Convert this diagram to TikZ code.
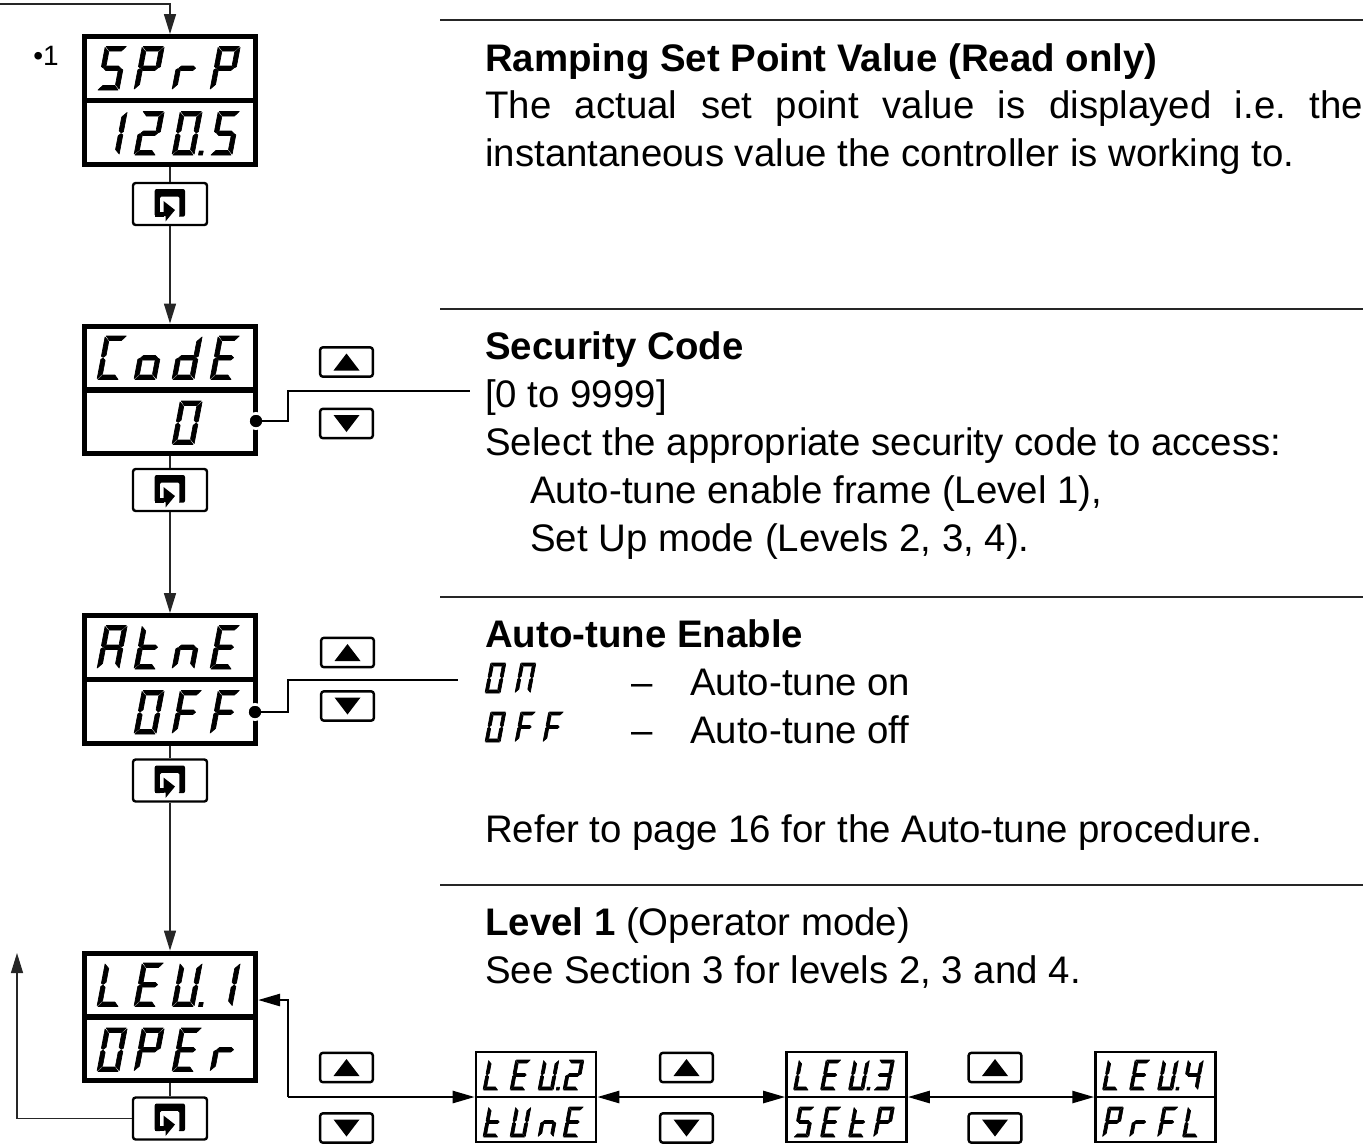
\documentclass[tikz,border=0pt]{standalone}
\usepackage{fontspec}
\setmainfont{Liberation Sans}
\usetikzlibrary{arrows.meta}
\frenchspacing
\newcommand{\segA}{\fill[segfill] (1,43.5)--(21,43.5)--(17,39)--(5,39)--cycle;}
\newcommand{\segD}{\fill[segfill] (1,0)--(21,0)--(17,4.5)--(5,4.5)--cycle;}
\newcommand{\segG}{\fill[segfill] (2.6,21.75)--(5,24)--(17,24)--(19.4,21.75)--(17,19.5)--(5,19.5)--cycle;}
\newcommand{\segF}{\fill[segfill] (0,42.5)--(4.5,38)--(4.5,24.3)--(2,22.1)--(0,23.4)--cycle;}
\newcommand{\segB}{\fill[segfill] (22,42.5)--(17.5,38)--(17.5,24.3)--(20,22.1)--(22,23.4)--cycle;}
\newcommand{\segE}{\fill[segfill] (0,1)--(4.5,5.5)--(4.5,19.2)--(2,21.4)--(0,20.1)--cycle;}
\newcommand{\segC}{\fill[segfill] (22,1)--(17.5,5.5)--(17.5,19.2)--(20,21.4)--(22,20.1)--cycle;}
\newcommand{\segP}{\fill[segfill] (26.5,0)--(30.5,0)--(30.5,4)--(26.5,4)--cycle;}
% \glyph{x}{y}{scale}{segments}: one seven-segment character
\newcommand{\glyph}[4]{\edef\glist{#4}\begin{scope}[shift={(#1,#2)},x=0.75pt,y=0.75pt,scale=#3,xslant=0.19]
\foreach \s in \glist {\csname seg\s\endcsname}\end{scope}}
\newcommand{\rowbig}[6]{%
\glyph{#1-73}{#2}{1}{#3}\glyph{#1-36}{#2}{1}{#4}\glyph{#1+2}{#2}{1}{#5}\glyph{#1+40}{#2}{1}{#6}}
\newcommand{\rowsmall}[6]{%
\glyph{#1-53}{#2}{0.69}{#3}\glyph{#1-26}{#2}{0.69}{#4}\glyph{#1+2}{#2}{0.69}{#5}\glyph{#1+27}{#2}{0.69}{#6}}
\def\gS{A,F,G,C,D}\def\gP{A,B,E,F,G}\def\gR{E,G}\def\gE{A,D,E,F,G}\def\gO{A,B,C,D,E,F}
\def\gC{A,D,E,F}\def\go{C,D,E,G}\def\gd{B,C,D,E,G}\def\gA{A,B,C,E,F,G}\def\gt{D,E,F,G}
\def\gn{C,E,G}\def\gF{A,E,F,G}\def\gL{D,E,F}\def\gU{B,C,D,E,F}\def\gOne{B,C}
\def\gTwo{A,B,G,E,D}\def\gThree{A,B,C,D,G}\def\gFour{B,C,F,G}\def\gN{A,B,C,E,F}
\tikzset{
 x=0.75pt,y=-0.75pt,
 segfill/.style={fill=black,draw=black,line width=0.5pt,line join=round},
 disp/.style={draw=black,line width=4pt,rectangle,minimum width=127.9pt,minimum height=95.6pt,inner sep=0,fill=none},
 sdisp/.style={draw=black,line width=1.9pt,rectangle,minimum width=90pt,minimum height=67.2pt,inner sep=0,fill=none},
 btn/.style={draw=black,line width=1.8pt,rectangle,rounded corners=2pt,inner sep=0},
 enterbtn/.style={btn,minimum width=55.5pt,minimum height=31.5pt},
 arrbtn/.style={btn,minimum width=39.5pt,minimum height=22pt},
 thinl/.style={line width=1pt,black!85},
 thickl/.style={line width=1.9pt,black},
 flow/.style={thinl,-{Triangle[length=15pt,width=9pt]}},
 flowk/.style={thickl,-{Triangle[length=16.5pt,width=9pt]}},
 flowkk/.style={thickl,{Triangle[length=16.5pt,width=9pt]}-{Triangle[length=16.5pt,width=9pt]}},
 rule/.style={line width=1.5pt,black!85},
 pdot/.style={circle,fill=black,draw=white,line width=2pt,inner sep=0,minimum size=11.5pt},
 txt/.style={anchor=base west,inner sep=0,font=\fontsize{28.8}{36}\selectfont},
 btxt/.style={txt,font=\fontsize{28.8}{36}\selectfont\bfseries},
}
\newcommand{\enterpic}[2]{\begin{scope}[shift={(#1,#2)}]
 \fill[black,rounded corners=1.5pt] (-15.3,-15)--(15,-15)--(15,12.7)--(-15.3,12.7)--cycle;
 \fill[white,rounded corners=1pt] (-10,13)--(-10,-7.3)--(9.3,-7.3)--(9.3,13)--cycle;
 \fill[white] (-10,12)rectangle(9.3,14);
 \fill[black] (-15.3,7.5) rectangle (-6,12.7);
 \fill[black] (-6.5,-3)--(5,6)--(-4.5,17.5)--(-4.5,12)--(-6.5,12)--cycle;
 \end{scope}}
\newcommand{\uptri}[2]{\fill[black] (#1-13,#2+8.5)--(#1+13,#2+8.5)--(#1,#2-8.5)--cycle;}
\newcommand{\dntri}[2]{\fill[black] (#1-13,#2-8.5)--(#1+13,#2-8.5)--(#1,#2+8.5)--cycle;}
\begin{document}
\begin{tikzpicture}
\useasboundingbox (0,0) rectangle (1369,1147);
% rules
\coordinate (r1a) at (440,20); \coordinate (r1b) at (1363,20);
\coordinate (r2a) at (440,309); \coordinate (r2b) at (1363,309);
\coordinate (r3a) at (440,597); \coordinate (r3b) at (1363,597);
\coordinate (r4a) at (440,885); \coordinate (r4b) at (1363,885);
\draw[rule] (r1a)--(r1b); \draw[rule] (r2a)--(r2b); \draw[rule] (r3a)--(r3b); \draw[rule] (r4a)--(r4b);
% displays
\node[disp] (d1) at (170,100.5) {};
\node[disp] (d2) at (170,390) {};
\node[disp] (d3) at (170,679.5) {};
\node[disp] (d4) at (170,1017) {};
\foreach \d in {d1,d2,d3,d4}{\draw[line width=4pt] (\d.west)--(\d.east);}
\rowbig{170}{90}{\gS}{\gP}{\gR}{\gP}
\glyph{97}{155}{1}{\gOne}\glyph{134}{155}{1}{\gTwo}\glyph{172}{155}{1}{\gO,P}\glyph{210}{155}{1}{\gS}
\node[txt,font=\fontsize{21}{25}\selectfont] (fn) at (33,65) {•1};
% enter buttons
\node[enterbtn] (e1) at (170,204) {};
\node[enterbtn] (e2) at (170,490) {};
\node[enterbtn] (e3) at (170,780.5) {};
\node[enterbtn] (e4) at (170,1118.5) {};
\enterpic{170}{204}\enterpic{170}{490}\enterpic{170}{780.5}\enterpic{170}{1118.5}
% display glyphs
\rowbig{170}{379.5}{\gC}{\go}{\gd}{\gE}
\glyph{172}{444.5}{1}{\gO}
\rowbig{170}{669}{\gA}{\gt}{\gn}{\gE}
\glyph{134}{734}{1}{\gO}\glyph{172}{734}{1}{\gF}\glyph{210}{734}{1}{\gF}
\rowbig{170}{1006.5}{\gL}{\gE}{\gU,P}{\gOne}
\rowbig{170}{1071.5}{\gO}{\gP}{\gE}{\gR}
% connectors, centre column
\coordinate (start) at (0,4);
\draw[flow] (start)-|(d1.north);
\draw[thinl] (d1.south)--(e1.north);
\draw[flow] (e1.south)--(d2.north);
\draw[thinl] (d2.south)--(e2.north);
\draw[flow] (e2.south)--(d3.north);
\draw[thinl] (d3.south)--(e3.north);
\draw[flow] (e3.south)--(d4.north);
\draw[thinl] (d4.south)--(e4.north);
\coordinate (back) at (17,953);
\draw[flow] (e4.west)-|(back);
% value pointers
\node[pdot] (v2) at (256,421) {};
\coordinate (v2b) at (470,391);
\draw[thickl] (v2.center)--(288,421)--(288,391)--(v2b);
\node[pdot] (v3) at (255,712) {};
\coordinate (v3b) at (458,680);
\draw[thickl] (v3.center)--(288,712)--(288,680)--(v3b);
% small displays
\node[sdisp] (l2) at (536,1097) {};
\node[sdisp] (l3) at (846.5,1097) {};
\node[sdisp] (l4) at (1155.5,1097) {};
\foreach \d in {l2,l3,l4}{\draw[line width=1.9pt] (\d.west)--(\d.east);}
\rowsmall{536}{1090}{\gL}{\gE}{\gU,P}{\gTwo}
\rowsmall{536}{1137}{\gt}{\gU}{\gn}{\gE}
\rowsmall{846.5}{1090}{\gL}{\gE}{\gU,P}{\gThree}
\rowsmall{846.5}{1137}{\gS}{\gE}{\gt}{\gP}
\rowsmall{1155.5}{1090}{\gL}{\gE}{\gU,P}{\gFour}
\rowsmall{1155.5}{1137}{\gP}{\gR}{\gF}{\gL}
% level connectors
\coordinate (d4in) at (258,1000);
\coordinate (lev) at (288,1097);
\draw[thickl,-{Triangle[length=16.5pt,width=9pt]}] (lev)|-(d4in);
\draw[flowk] (lev)--(l2.west);
\draw[flowkk] (l2.east)--(l3.west);
\draw[flowkk] (l3.east)--(l4.west);
% up/down buttons
\foreach \n/\cx/\cy in {a/346.5/362,b/346.5/423.5,c/347.5/652.5,d/347.5/706,e/346.5/1067.5,f/346.5/1128,g/686.5/1067.5,h/686.5/1128,i/995/1067.5,j/995/1128}{
 \node[arrbtn] (\n) at (\cx,\cy) {};}
\uptri{346.5}{362}\dntri{346.5}{423.5}\uptri{347.5}{652.5}\dntri{347.5}{706}
\uptri{346.5}{1067.5}\dntri{346.5}{1128}\uptri{686.5}{1067.5}\dntri{686.5}{1128}\uptri{995}{1067.5}\dntri{995}{1128}
% texts
\node[btxt] (t1) at (485,71) {Ramping Set Point Value (Read only)};
\node[txt] (t2) at (485,118) {\makebox[658.5pt][s]{The actual set point value is displayed i.e. the}};
\node[txt] (t2b) at (485,166) {instantaneous value the controller is working to.};
\node[btxt] (t3) at (485,359) {Security Code};
\node[txt] (t4) at (485,407) {[0 to 9999]};
\node[txt] (t5) at (485,455) {Select the appropriate security code to access:};
\node[txt] (t6) at (530,503) {Auto-tune enable frame (Level 1),};
\node[txt] (t7) at (530,551) {Set Up mode (Levels 2, 3, 4).};
\node[btxt] (t8) at (485,647) {Auto-tune Enable};
\glyph{485}{693}{0.69}{\gO}\glyph{515}{693}{0.69}{\gN}
\glyph{485}{742}{0.69}{\gO}\glyph{515}{742}{0.69}{\gF}\glyph{543}{742}{0.69}{\gF}
\node[txt] (t9) at (631,695) {–};
\node[txt] (t10) at (631,743) {–};
\node[txt] (t11) at (690,695) {Auto-tune on};
\node[txt] (t12) at (690,743) {Auto-tune off};
\node[txt] (t13) at (485,842) {Refer to page 16 for the Auto-tune procedure.};
\node[txt] (t14) at (485,935) {\textbf{Level 1} (Operator mode)};
\node[txt] (t15) at (485,983) {See Section 3 for levels 2, 3 and 4.};
\end{tikzpicture}
\end{document}
